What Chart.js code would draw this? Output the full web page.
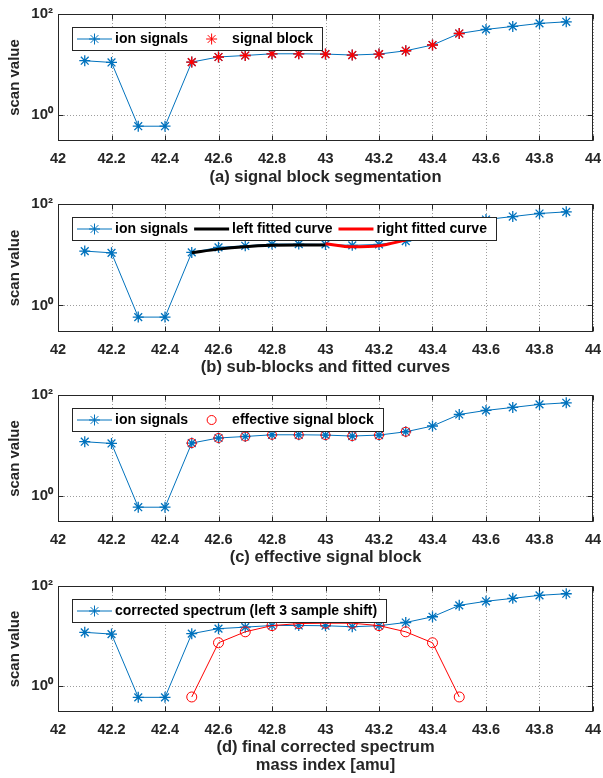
<!DOCTYPE html>
<html>
<head>
<meta charset="utf-8">
<script src="https://cdn.jsdelivr.net/npm/chart.js@4/dist/chart.umd.min.js"></script>
<style>
  html, body { margin: 0; padding: 0; background: #fff; }
  body { width: 603px; height: 778px; position: relative; overflow: hidden; }
  canvas { position: absolute; left: 0; }
</style>
</head>
<body>
<canvas id="ca" width="603" height="190" style="top:0px"></canvas>
<canvas id="cb" width="603" height="190" style="top:190px"></canvas>
<canvas id="cc" width="603" height="190" style="top:380px"></canvas>
<canvas id="cd" width="603" height="208" style="top:570px"></canvas>
<script>
// ---------------- data ----------------
const massIndex = [42.1, 42.2, 42.3, 42.4, 42.5, 42.6, 42.7, 42.8, 42.9, 43.0,
                   43.1, 43.2, 43.3, 43.4, 43.5, 43.6, 43.7, 43.8, 43.9];
const ionSignals = [11.8, 10.9, 0.59, 0.59, 11.1, 14.0, 15.0, 16.2, 16.2, 16.0,
                    15.3, 16.0, 18.6, 24.2, 41.0, 49.4, 56.6, 65.0, 70.0];

const blockMass = [42.5, 42.6, 42.7, 42.8, 42.9, 43.0, 43.1, 43.2, 43.3, 43.4, 43.5];
const blockValues = [11.1, 14.0, 15.0, 16.2, 16.2, 16.0, 15.3, 16.0, 18.6, 24.2, 41.0];

const leftCurveMass = [42.5, 42.6, 42.7, 42.8, 42.9, 43.0];
const leftCurveValues = [10.9, 12.9, 14.4, 15.3, 15.6, 15.6];
const rightCurveMass = [43.0, 43.1, 43.2, 43.3];
const rightCurveValues = [16.5, 14.3, 15.0, 19.5];

const effectiveMass = [42.5, 42.6, 42.7, 42.8, 42.9, 43.0, 43.1, 43.2, 43.3];
const effectiveValues = [11.1, 14.0, 15.0, 16.2, 16.2, 16.0, 15.3, 16.0, 18.6];

const correctedSpectrum = [11.8, 10.9, 0.59, 0.59, 11.1, 14.0, 15.0, 16.2, 16.2, 16.0,
                           15.3, 16.0, 18.6, 24.2, 41.0, 49.4, 56.6, 65.0, 70.0];
const shiftedMass = [42.5, 42.6, 42.7, 42.8, 42.9, 43.0, 43.1, 43.2, 43.3, 43.4, 43.5];
const shiftedValues = [0.6, 7.3, 12.1, 16.1, 17.7, 18.0, 18.0, 16.1, 12.1, 7.3, 0.6];

const xTickValues = [42, 42.2, 42.4, 42.6, 42.8, 43, 43.2, 43.4, 43.6, 43.8, 44];
const xTickLabels = ['42', '42.2', '42.4', '42.6', '42.8', '43', '43.2', '43.4', '43.6', '43.8', '44'];
const yTickValues = [1, 100];
const yTickLabels = ['10\u2070', '10\u00B2'];

const captions = {
  a: '(a) signal block segmentation',
  b: '(b) sub-blocks and fitted curves',
  c: '(c) effective signal block',
  d: ['(d) final corrected spectrum', 'mass index [amu]']
};
const yTitle = 'scan value';

// ---------------- helpers ----------------
const pts = (xs, ys) => xs.map((x, i) => ({ x: x, y: ys[i] }));
const FONT = '"Liberation Sans", Arial, Helvetica, sans-serif';
const INK = '#262626';
const BLUE = '#0072BD';
const RED = '#FF0000';

Chart.defaults.font.family = FONT;
Chart.defaults.font.weight = 'bold';
Chart.defaults.color = INK;

const boxPlugin = {
  id: 'matlabBox',
  beforeDatasetsDraw(chart) {
    const ctx = chart.ctx, a = chart.chartArea;
    const xs = chart.scales.x, ys = chart.scales.y;
    ctx.save();
    ctx.strokeStyle = 'rgba(38,38,38,0.45)';
    ctx.lineWidth = 1;
    ctx.setLineDash([1, 2]);
    xTickValues.forEach(v => {
      const px = Math.round(xs.getPixelForValue(v)) + 0.5;
      ctx.beginPath(); ctx.moveTo(px, a.top); ctx.lineTo(px, a.bottom); ctx.stroke();
    });
    yTickValues.forEach(v => {
      const py = Math.round(ys.getPixelForValue(v)) + 0.5;
      ctx.beginPath(); ctx.moveTo(a.left, py); ctx.lineTo(a.right, py); ctx.stroke();
    });
    ctx.restore();
  },
  afterDatasetsDraw(chart) {
    const ctx = chart.ctx, a = chart.chartArea;
    const xs = chart.scales.x, ys = chart.scales.y;
    ctx.save();
    ctx.strokeStyle = INK;
    ctx.lineWidth = 1;
    ctx.setLineDash([]);
    const L = Math.round(a.left) + 0.5, R = Math.round(a.right) - 0.5;
    const T = Math.round(a.top) + 0.5, B = Math.round(a.bottom) - 0.5;
    ctx.strokeRect(L, T, R - L, B - T);
    const tl = 5;
    ctx.beginPath();
    xTickValues.forEach(v => {
      const px = Math.round(xs.getPixelForValue(v)) + 0.5;
      ctx.moveTo(px, B); ctx.lineTo(px, B - tl);
      ctx.moveTo(px, T); ctx.lineTo(px, T + tl);
    });
    yTickValues.forEach(v => {
      const py = Math.round(ys.getPixelForValue(v)) + 0.5;
      ctx.moveTo(L, py); ctx.lineTo(L + tl, py);
      ctx.moveTo(R, py); ctx.lineTo(R - tl, py);
    });
    ctx.stroke();
    ctx.restore();
  }
};

const legendPlugin = {
  id: 'boxLegend',
  afterDatasetsDraw(chart) {
    const ctx = chart.ctx, a = chart.chartArea;
    const items = chart.data.datasets.filter(d => d.label);
    if (!items.length) return;
    ctx.save();
    ctx.font = 'bold 14px ' + FONT;
    const x0 = Math.round(a.left) + 14, y0 = Math.round(a.top) + 13, h = 23;
    const sample = 35;
    let w = 5;
    const widths = items.map(d => ctx.measureText(d.label).width);
    items.forEach((d, i) => { w += sample + 3 + widths[i] + (i < items.length - 1 ? 6 : 9); });
    w = Math.round(w);
    ctx.fillStyle = '#ffffff';
    ctx.fillRect(x0, y0, w, h);
    ctx.strokeStyle = INK;
    ctx.lineWidth = 1;
    ctx.strokeRect(x0 + 0.5, y0 + 0.5, w, h);
    let x = x0 + 5;
    const cy = y0 + h / 2 + 0.5;
    items.forEach((d, i) => {
      if (d.showLine) {
        ctx.save();
        ctx.strokeStyle = d.borderColor;
        ctx.lineWidth = d.borderWidth;
        ctx.beginPath(); ctx.moveTo(x, cy); ctx.lineTo(x + sample, cy); ctx.stroke();
        ctx.restore();
      }
      if (d.pointRadius > 0) {
        ctx.save();
        ctx.strokeStyle = d.pointBorderColor;
        ctx.fillStyle = 'rgba(0,0,0,0)';
        Chart.helpers.drawPoint(ctx, {
          pointStyle: d.pointStyle, radius: d.pointRadius,
          borderWidth: d.pointBorderWidth, rotation: 0
        }, x + sample / 2, cy);
        ctx.restore();
      }
      ctx.fillStyle = '#000000';
      ctx.textBaseline = 'middle';
      ctx.textAlign = 'left';
      ctx.fillText(d.label, x + sample + 3, cy);
      x += sample + 3 + widths[i] + 6;
    });
    ctx.restore();
  }
};

function ionDataset(label, values) {
  return {
    label: label,
    data: pts(massIndex, values),
    showLine: true,
    borderColor: BLUE,
    borderWidth: 1,
    pointStyle: 'star',
    pointRadius: 5.5,
    pointHoverRadius: 5.5,
    pointBorderWidth: 1.3,
    pointBorderColor: BLUE,
    pointBackgroundColor: BLUE,
    order: 2
  };
}

function makeChart(id, datasets, caption, padTop, xAxisHeight) {
  return new Chart(document.getElementById(id), {
    type: 'scatter',
    data: { datasets: datasets },
    options: {
      responsive: false,
      animation: false,
      devicePixelRatio: 1,
      events: [],
      layout: { padding: { top: padTop, right: 10, left: 0, bottom: 0 } },
      plugins: { legend: { display: false }, tooltip: { enabled: false } },
      scales: {
        x: {
          type: 'linear',
          min: 42, max: 44,
          afterBuildTicks: s => { s.ticks = xTickValues.map(v => ({ value: v })); },
          afterFit: s => { s.height = xAxisHeight; s.paddingLeft = 0; s.paddingRight = 0; },
          grid: { display: false, drawTicks: false },
          border: { display: false },
          ticks: {
            autoSkip: false, maxRotation: 0, padding: 9,
            font: { size: 14.5, weight: 'bold' }, color: INK,
            callback: (v, i) => xTickLabels[i]
          },
          title: {
            display: true, text: caption, color: INK,
            font: { size: 16.5, weight: 'bold', lineHeight: 1.1 },
            padding: { top: 3, bottom: 3 }
          }
        },
        y: {
          type: 'logarithmic',
          min: 0.3, max: 100,
          afterBuildTicks: s => { s.ticks = yTickValues.map(v => ({ value: v })); },
          afterFit: s => { s.width = 58; s.paddingTop = 0; s.paddingBottom = 0; },
          grid: { display: false, drawTicks: false },
          border: { display: false },
          ticks: {
            padding: 5,
            font: { size: 15, weight: 'bold' }, color: INK,
            callback: (v, i) => yTickLabels[i]
          },
          title: {
            display: true, text: yTitle, color: INK,
            font: { size: 15, weight: 'bold', lineHeight: 1.2 },
            padding: { top: 6, bottom: 6 }
          }
        }
      }
    },
    plugins: [boxPlugin, legendPlugin]
  });
}

// (a)
makeChart('ca', [
  ionDataset('ion signals', ionSignals),
  {
    label: 'signal block',
    data: pts(blockMass, blockValues),
    showLine: false,
    borderColor: RED,
    pointStyle: 'star', pointRadius: 5.5, pointHoverRadius: 5.5, pointBorderWidth: 1.3,
    pointBorderColor: RED, pointBackgroundColor: RED,
    order: 1
  }
], captions.a, 14, 49);

// (b)
makeChart('cb', [
  ionDataset('ion signals', ionSignals),
  {
    label: 'left fitted curve',
    data: pts(leftCurveMass, leftCurveValues),
    showLine: true, borderColor: '#000000', borderWidth: 3,
    pointRadius: 0, pointHoverRadius: 0, cubicInterpolationMode: 'monotone',
    order: 1
  },
  {
    label: 'right fitted curve',
    data: pts(rightCurveMass, rightCurveValues),
    showLine: true, borderColor: RED, borderWidth: 3,
    pointRadius: 0, pointHoverRadius: 0, cubicInterpolationMode: 'monotone',
    order: 0
  }
], captions.b, 14, 48);

// (c)
makeChart('cc', [
  ionDataset('ion signals', ionSignals),
  {
    label: 'effective signal block',
    data: pts(effectiveMass, effectiveValues),
    showLine: false,
    borderColor: RED,
    pointStyle: 'circle', pointRadius: 4.5, pointHoverRadius: 4.5, pointBorderWidth: 1,
    pointBorderColor: RED, pointBackgroundColor: 'rgba(0,0,0,0)',
    order: 1
  }
], captions.c, 15, 48);

// (d)
makeChart('cd', [
  ionDataset('corrected spectrum (left 3 sample shift)', correctedSpectrum),
  {
    label: '',
    data: pts(shiftedMass, shiftedValues),
    showLine: true, borderColor: RED, borderWidth: 1,
    pointStyle: 'circle', pointRadius: 5, pointHoverRadius: 5, pointBorderWidth: 1,
    pointBorderColor: RED, pointBackgroundColor: 'rgba(0,0,0,0)',
    order: 1
  }
], captions.d, 16, 66);
</script>
</body>
</html>
